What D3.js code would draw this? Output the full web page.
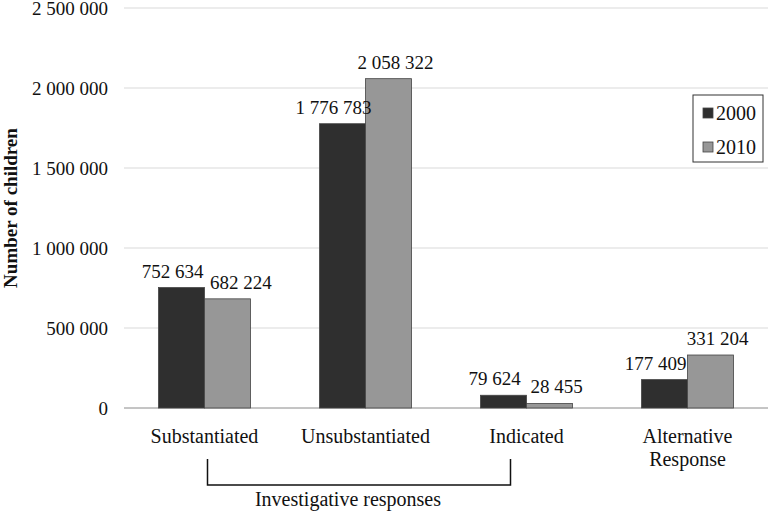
<!DOCTYPE html>
<html>
<head>
<style>
body { margin: 0; background: #fff; }
</style>
<script src="https://d3js.org/d3.v7.min.js"></script>
</head>
<body>
<script>
const categories = ["Substantiated", "Unsubstantiated", "Indicated", "Alternative Response"];
const years = ["2000", "2010"];
const values2000 = [752634, 1776783, 79624, 177409];
const values2010 = [682224, 2058322, 28455, 331204];
const yTicks = [0, 500000, 1000000, 1500000, 2000000, 2500000];

const width = 768, height = 514;
const margin = {top: 8, right: 0, bottom: 106, left: 124};
const colors = {"2000": "#2f2f2f", "2010": "#979797"};
const serif = "'Liberation Serif'";

const svg = d3.select("body").append("svg")
    .attr("width", width)
    .attr("height", height);

const x0 = d3.scaleBand()
    .domain(categories)
    .range([margin.left, width - margin.right])
    .padding(0);

const x1 = d3.scaleBand()
    .domain(years)
    .range([0, 92]);

const y = d3.scaleLinear()
    .domain([0, 2500000])
    .range([height - margin.bottom, margin.top]);

const fmt = v => d3.format(",")(v).replace(/,/g, " ");

// gridlines
svg.append("g")
    .selectAll("line")
    .data(yTicks.slice(1))
    .join("line")
    .attr("x1", margin.left).attr("x2", width)
    .attr("y1", d => y(d)).attr("y2", d => y(d))
    .attr("stroke", "#d9d9d9").attr("stroke-width", 1);

// y axis labels
const yAxis = svg.append("g")
    .attr("transform", `translate(${margin.left},0)`)
    .call(d3.axisLeft(y).tickValues(yTicks).tickSize(0).tickPadding(16).tickFormat(fmt));
yAxis.attr("font-family", null).attr("font-size", null);
yAxis.select(".domain").remove();
yAxis.selectAll("text")
    .attr("fill", "#111").attr("dy", "0.36em")
    .style("font-family", serif).style("font-size", "19px");

// baseline
svg.append("line")
    .attr("x1", margin.left).attr("x2", width)
    .attr("y1", y(0)).attr("y2", y(0))
    .attr("stroke", "#8a8a8a").attr("stroke-width", 1);

// bars
const rows = categories.map((c, i) => ({cat: c, vals: [
    {year: "2000", v: values2000[i]},
    {year: "2010", v: values2010[i]}
]}));

const groups = svg.append("g").selectAll("g")
    .data(rows)
    .join("g")
    .attr("transform", d => `translate(${x0(d.cat) + x0.bandwidth() / 2 - 46},0)`);

groups.selectAll("rect")
    .data(d => d.vals)
    .join("rect")
    .attr("x", d => x1(d.year))
    .attr("y", d => y(d.v))
    .attr("width", x1.bandwidth())
    .attr("height", d => y(0) - y(d.v))
    .attr("fill", d => colors[d.year])
    .attr("stroke", "#444")
    .attr("stroke-width", 0.8);

groups.selectAll("text.val")
    .data(d => d.vals)
    .join("text")
    .attr("class", "val")
    .attr("x", d => x1(d.year) + x1.bandwidth() / 2 + (d.year === "2000" ? -9 : 7))
    .attr("y", d => y(d.v) - 10)
    .attr("text-anchor", "middle")
    .style("font-family", serif)
    .style("font-size", "19px")
    .attr("fill", "#111")
    .text(d => fmt(d.v));

// push the 2010 label right when it collides with the 2000 one
groups.each(function () {
    const labels = d3.select(this).selectAll("text.val").nodes();
    const a = labels[0].getBBox(), b = labels[1].getBBox();
    const vOverlap = a.y < b.y + b.height && b.y < a.y + a.height;
    const need = a.x + a.width + 6 - b.x;
    if (vOverlap && need > 0) {
        const t = d3.select(labels[1]);
        t.attr("x", +t.attr("x") + need);
    }
});

// category labels
const catLabels = svg.append("g").selectAll("text")
    .data(categories)
    .join("text")
    .attr("x", d => x0(d) + x0.bandwidth() / 2)
    .attr("y", y(0) + 35)
    .attr("text-anchor", "middle")
    .attr("fill", "#111")
    .style("font-family", serif)
    .style("font-size", "20px");
catLabels.each(function (d) {
    const words = d === "Alternative Response" ? ["Alternative", "Response"] : [d];
    const t = d3.select(this);
    words.forEach((w, i) => {
        t.append("tspan")
            .attr("x", x0(d) + x0.bandwidth() / 2)
            .attr("dy", i === 0 ? 0 : 23)
            .text(w);
    });
});

// bracket for investigative responses
const bx1 = x0(categories[0]) + x0.bandwidth() / 2 + 3;
const bx2 = x0(categories[2]) + x0.bandwidth() / 2 - 16;
const byTop = y(0) + 51, byBot = y(0) + 77;
svg.append("path")
    .attr("d", `M${bx1},${byTop}V${byBot}H${bx2}V${byTop}`)
    .attr("fill", "none")
    .attr("stroke", "#111")
    .attr("stroke-width", 1.5);
svg.append("text")
    .attr("x", (bx1 + bx2) / 2 - 11)
    .attr("y", y(0) + 98)
    .attr("text-anchor", "middle")
    .attr("fill", "#111")
    .style("font-family", serif)
    .style("font-size", "20px")
    .text("Investigative responses");

// y axis title
svg.append("text")
    .attr("transform", `translate(17,${y(1250000)}) rotate(-90)`)
    .attr("text-anchor", "middle")
    .attr("fill", "#111")
    .style("font-family", serif)
    .style("font-size", "19px")
    .style("font-weight", "bold")
    .text("Number of children");

// legend
const lg = svg.append("g").attr("transform", "translate(693,95)");
lg.append("rect")
    .attr("width", 70).attr("height", 67)
    .attr("fill", "#fff").attr("stroke", "#333").attr("stroke-width", 1);
years.forEach((yr, i) => {
    const row = lg.append("g").attr("transform", `translate(10,${18 + i * 34})`);
    row.append("rect")
        .attr("x", 0).attr("y", -5)
        .attr("width", 10).attr("height", 10)
        .attr("fill", colors[yr]).attr("stroke", "#444").attr("stroke-width", 0.8);
    row.append("text")
        .attr("x", 13).attr("y", 7)
        .attr("fill", "#111")
        .style("font-family", serif)
        .style("font-size", "20px")
        .text(yr);
});
</script>
</body>
</html>
